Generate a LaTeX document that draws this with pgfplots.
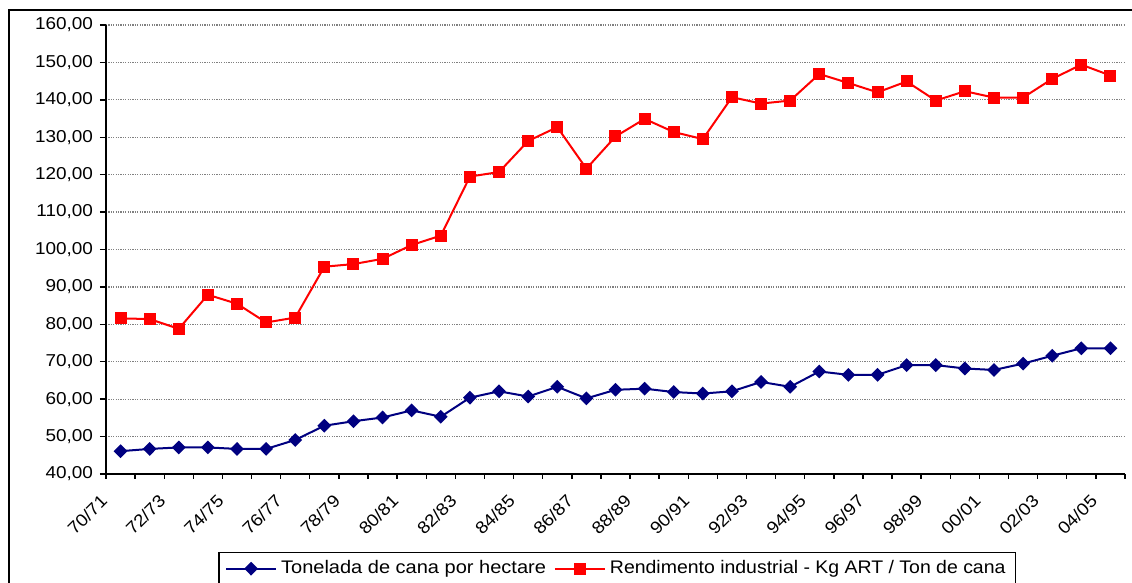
\documentclass[border=0pt]{standalone}
\usepackage{fontspec}
\setmainfont{Liberation Sans}[FakeStretch=1.1]
\usepackage{graphicx}
\usepackage{pgfplots}
\pgfplotsset{compat=1.18}
\definecolor{navyblue}{RGB}{0,0,128}
\begin{document}
\begin{tikzpicture}
\useasboundingbox (0,0) rectangle (566pt,291.5pt);
\clip (0,0) rectangle (566pt,291.5pt);
% outer chart frame (cut off at right and bottom)
\draw[line width=1.2pt] (4.5pt,-5pt) -- (4.5pt,286.5pt) -- (580pt,286.5pt);
\begin{axis}[
  at={(53pt,54.5pt)}, anchor=south west,
  scale only axis, width=509.5pt, height=224.5pt,
  xmin=-0.5, xmax=34.5, ymin=40, ymax=160,
  axis lines*=left,
  axis line style={line width=0.9pt},
  xtick={0,2,...,34},
  xticklabels={70/71,72/73,74/75,76/77,78/79,80/81,82/83,84/85,86/87,88/89,90/91,92/93,94/95,96/97,98/99,00/01,02/03,04/05},
  minor xtick={-0.5,0.5,...,34.5},
  major x tick style={draw=none},
  ytick={40,50,...,160},
  tick align=outside,
  major tick length=3pt, minor tick length=2.5pt,
  tick style={black, line width=0.7pt},
  ymajorgrids,
  grid style={gray, line width=0.6pt, dash pattern=on 0.6pt off 0.6pt},
  yticklabel={\pgfmathprintnumber[fixed,fixed zerofill,precision=2,use comma,1000 sep={},assume math mode=true]{\tick}},
  tick label style={font=\fontsize{8.6}{10}\selectfont},
  x tick label style={xshift=-10.5pt, yshift=-1.8pt, rotate=45, anchor=north east},
  legend style={at={(0.1104,-0.1737)}, anchor=north west, draw=black,
    line width=0.6pt, font=\fontsize{9.1}{11}\selectfont,
    /tikz/every even column/.append style={column sep=2pt}},
  legend columns=2,
  legend image code/.code={\draw[mark repeat=2,mark phase=2,#1] plot coordinates {(0pt,0pt) (12.5pt,0pt) (25pt,0pt)};},
]
\addplot[navyblue, line width=1pt, mark=diamond*, mark size=2.75pt, mark options={solid, xscale=1.33}] coordinates {
(0,46.1) (1,46.7) (2,47.1) (3,47.1) (4,46.7) (5,46.7) (6,49.1) (7,52.9) (8,54.1) (9,55.1)
(10,57.0) (11,55.3) (12,60.4) (13,62.1) (14,60.7) (15,63.3) (16,60.2) (17,62.5) (18,62.8) (19,61.9)
(20,61.5) (21,62.1) (22,64.6) (23,63.3) (24,67.4) (25,66.5) (26,66.5) (27,69.1) (28,69.1) (29,68.2)
(30,67.8) (31,69.5) (32,71.6) (33,73.6) (34,73.6)
};
\addplot[red, line width=1pt, mark=square*, mark size=2.5pt, mark options={solid}] coordinates {
(0,81.6) (1,81.4) (2,78.8) (3,87.9) (4,85.5) (5,80.5) (6,81.8) (7,95.4) (8,96.1) (9,97.5)
(10,101.2) (11,103.7) (12,119.5) (13,120.7) (14,129.0) (15,132.7) (16,121.6) (17,130.2) (18,134.9) (19,131.4)
(20,129.5) (21,140.7) (22,139.0) (23,139.8) (24,146.9) (25,144.5) (26,142.0) (27,144.9) (28,139.8) (29,142.3)
(30,140.6) (31,140.6) (32,145.6) (33,149.4) (34,146.5)
};
\legend{Tonelada de cana por hectare, \scalebox{0.972}[1]{Rendimento industrial - Kg ART / Ton de cana}}
\end{axis}
\end{tikzpicture}
\end{document}
